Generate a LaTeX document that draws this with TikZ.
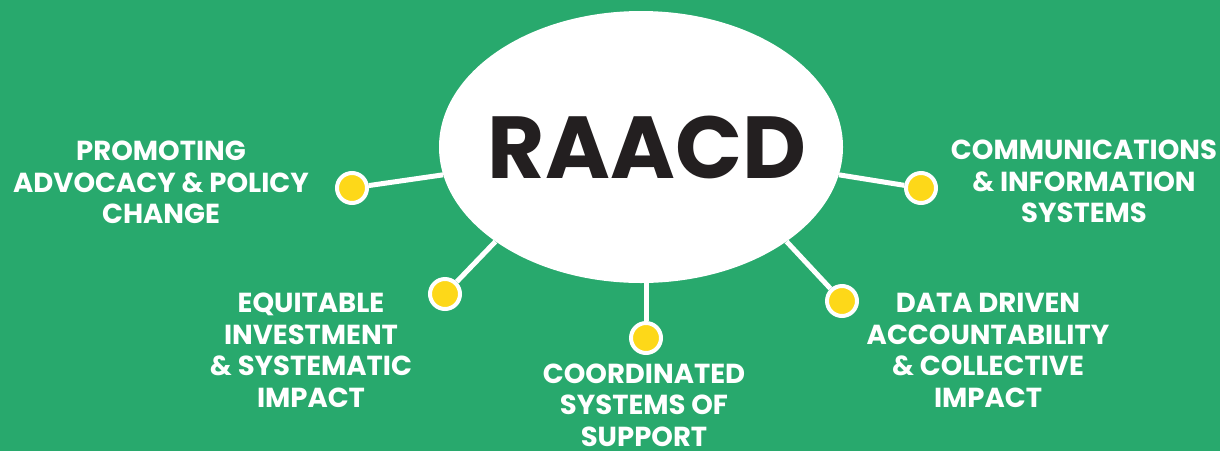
\documentclass[tikz,border=0pt]{standalone}
\usepackage{fontspec}
\setmainfont{Poppins}
\usetikzlibrary{shapes.geometric}
\definecolor{bggreen}{HTML}{28A96D}
\definecolor{dotyellow}{HTML}{FDD819}
\definecolor{titleink}{HTML}{231F20}
\begin{document}
\begin{tikzpicture}[x=1pt,y=-1pt,
  hub/.style={ellipse, fill=white, minimum width=404pt, minimum height=272pt, inner sep=0pt,
    text=titleink, font=\fontsize{88}{90}\selectfont\bfseries},
  dot/.style={circle, fill=dotyellow, draw=white, line width=4pt, minimum size=30pt, inner sep=0pt},
  topic/.style={text=white, align=center, font=\fontsize{27.5}{31.5}\selectfont\bfseries, inner sep=0pt},
  link/.style={draw=white, line width=5pt}]
\fill[bggreen] (0,0) rectangle (1220,451);
\useasboundingbox (0,0) rectangle (1220,451);

\node[hub] (hub) at (641,147) {\makebox[0pt][c]{\kern12pt RAACD}};

\node[dot] (d1) at (352,188) {};
\node[dot] (d2) at (445,294) {};
\node[dot] (d3) at (646,338) {};
\node[dot] (d4) at (842,301) {};
\node[dot] (d5) at (921,188) {};

\draw[link] (hub.188.6) -- (d1);
\draw[link] (hub.213) -- (d2);
\draw[link] (d3 |- hub.south) -- (d3);
\draw[link] (hub.327) -- (d4);
\draw[link] (hub.352) -- (d5);

\node[topic] (t1) at (161,182.5) {PROMOTING\\ADVOCACY \& POLICY\\CHANGE};
\node[topic] (t2) at (311,350.5) {EQUITABLE\\INVESTMENT\\\& SYSTEMATIC\\IMPACT};
\node[topic] (t3) at (644,405) {COORDINATED\\SYSTEMS OF\\SUPPORT};
\node[topic] (t4) at (988,350.5) {DATA DRIVEN\\ACCOUNTABILITY\\\& COLLECTIVE\\IMPACT};
\node[topic] (t5) at (1084,181.5) {COMMUNICATIONS\\\& INFORMATION\\SYSTEMS};
\end{tikzpicture}
\end{document}
